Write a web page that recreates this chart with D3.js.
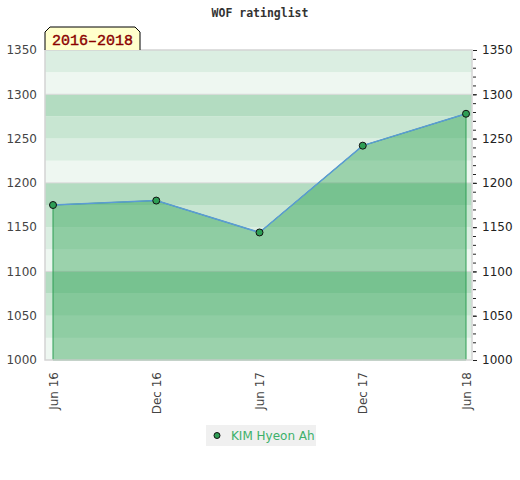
<!DOCTYPE html>
<html>
<head>
<meta charset="utf-8">
<style>
	body { margin: 0; background: #fff; }
	text { font-family: "DejaVu Sans", sans-serif; }
</style>
<script src="https://d3js.org/d3.v7.min.js"></script>
</head>
<body>
<svg width="520" height="480"></svg>
<script>

	// data
	var periods = ["Jun 16", "Dec 16", "Jun 17", "Dec 17", "Jun 18"];
	var ratings = [1175, 1180, 1144, 1242, 1278];
	var yTicks = [1000, 1050, 1100, 1150, 1200, 1250, 1300, 1350];
	var bandColors = ["#eef7f1", "#dbeee2", "#c8e6d2", "#b3dcc1"];
	var playerName = "KIM Hyeon Ah";
	var chartTitle = "WOF ratinglist";
	var rangeTag = "2016\u20132018";

	var svg = d3.select("svg"),
		margin = {top: 50, right: 48, bottom: 120, left: 45},
		width = +svg.attr("width") - margin.left - margin.right,
		height = +svg.attr("height") - margin.top - margin.bottom,
		g = svg.append("g").attr("transform", "translate(" + margin.left + "," + margin.top + ")");

	var x = d3.scalePoint()
		.domain(periods)
		.range([8, width - 6]);

	var y = d3.scaleLinear()
		.domain([1000, 1350])
		.range([height, 0]);

	var fmt = d3.format("d");

	// title
	svg.append("text")
		.attr("x", 260)
		.attr("y", 17)
		.attr("text-anchor", "middle")
		.style("font-family", "'DejaVu Sans Mono', monospace")
		.style("font-weight", "bold")
		.style("font-size", "11.5px")
		.attr("fill", "#333")
		.text(chartTitle);

	// background bands, 25 points each
	var bands = d3.range(1000, 1350, 25);
	g.selectAll(".band")
		.data(bands)
		.enter().append("rect")
		.attr("x", 0)
		.attr("width", width)
		.attr("y", function(d) { return y(d + 25); })
		.attr("height", function(d) { return y(d) - y(d + 25); })
		.attr("fill", function(d) { return bandColors[((d - 1000) / 25) % 4]; });

	// gridlines every 100
	g.selectAll(".grid")
		.data([1100, 1200, 1300])
		.enter().append("line")
		.attr("x1", 0).attr("x2", width)
		.attr("y1", function(d) { return y(d); })
		.attr("y2", function(d) { return y(d); })
		.attr("stroke", "#d8d8d8")
		.attr("stroke-width", 1);

	var data = periods.map(function(p, i) { return {p: p, v: ratings[i]}; });

	var area = d3.area()
		.x(function(d) { return x(d.p); })
		.y0(height)
		.y1(function(d) { return y(d.v); });

	var line = d3.line()
		.x(function(d) { return x(d.p); })
		.y(function(d) { return y(d.v); });

	g.append("path")
		.datum(data)
		.attr("fill", "#1e9a47")
		.attr("fill-opacity", 0.4)
		.attr("stroke", "#2e9e55")
		.attr("stroke-width", 1)
		.attr("d", area);

	g.append("path")
		.datum(data)
		.attr("fill", "none")
		.attr("stroke", "#5b9bd5")
		.attr("stroke-width", 1.5)
		.attr("d", line);

	g.selectAll(".pt")
		.data(data)
		.enter().append("circle")
		.attr("cx", function(d) { return x(d.p); })
		.attr("cy", function(d) { return y(d.v); })
		.attr("r", 3.5)
		.attr("fill", "#2e9e55")
		.attr("stroke", "#111")
		.attr("stroke-width", 1);

	// frame
	g.append("rect")
		.attr("x", 0).attr("y", 0)
		.attr("width", width).attr("height", height)
		.attr("fill", "none")
		.attr("stroke", "#d4d4d4")
		.attr("stroke-width", 1.5);

	// left axis: labels only
	var left = g.append("g")
		.call(d3.axisLeft(y).tickValues(yTicks).tickSize(0).tickPadding(8).tickFormat(fmt));
	left.select(".domain").remove();
	left.selectAll("text")
		.style("font-size", "12px")
		.attr("fill", "#444");

	// right axis: minor ticks every 10, labels every 50
	var right = g.append("g")
		.attr("transform", "translate(" + width + ",0)");
	right.call(d3.axisRight(y).tickValues(d3.range(1000, 1351, 10)).tickSize(3).tickFormat(""))
		.select(".domain").remove();
	right.selectAll("line").attr("stroke", "#222").attr("transform", "translate(1,0)");
	var rightLab = g.append("g")
		.attr("transform", "translate(" + width + ",0)")
		.call(d3.axisRight(y).tickValues(yTicks).tickSize(4).tickPadding(6).tickFormat(fmt));
	rightLab.select(".domain").remove();
	rightLab.selectAll("line").attr("stroke", "#222").attr("transform", "translate(1,0)");
	rightLab.selectAll("text")
		.style("font-size", "12px")
		.attr("fill", "#222");

	// bottom axis
	var bottom = g.append("g")
		.attr("transform", "translate(0," + height + ")")
		.call(d3.axisBottom(x).tickSize(0));
	bottom.select(".domain").remove();
	bottom.selectAll("text")
		.style("font-size", "12px")
		.attr("fill", "#444")
		.attr("text-anchor", "end")
		.attr("transform", "rotate(-90)")
		.attr("x", -12)
		.attr("y", 0)
		.attr("dy", "0.35em");

	// year range tag
	var tag = svg.append("g").attr("transform", "translate(" + margin.left + "," + margin.top + ")");
	tag.append("path")
		.attr("d", "M0,0 L0,-18 L5,-23 L90,-23 L95,-18 L95,0")
		.attr("fill", "#ffffcc")
		.attr("stroke", "#000")
		.attr("stroke-width", 1);
	tag.append("text")
		.attr("x", 47.5)
		.attr("y", -5.5)
		.attr("text-anchor", "middle")
		.style("font-family", "'Liberation Mono', monospace")
		.style("font-size", "15px")
		.attr("stroke", "#8b0000")
		.attr("stroke-width", 0.4)
		.attr("fill", "#8b0000")
		.text(rangeTag);

	// legend
	var leg = svg.append("g").attr("transform", "translate(206,425)");
	leg.append("rect")
		.attr("width", 110).attr("height", 21)
		.attr("fill", "#f0f0f0");
	leg.append("circle")
		.attr("cx", 11).attr("cy", 10.5).attr("r", 3)
		.attr("fill", "#2e9e55").attr("stroke", "#111");
	leg.append("text")
		.attr("x", 25).attr("y", 15)
		.style("font-size", "12px")
		.attr("fill", "#3cb06a")
		.text(playerName);

</script>
</body>
</html>
